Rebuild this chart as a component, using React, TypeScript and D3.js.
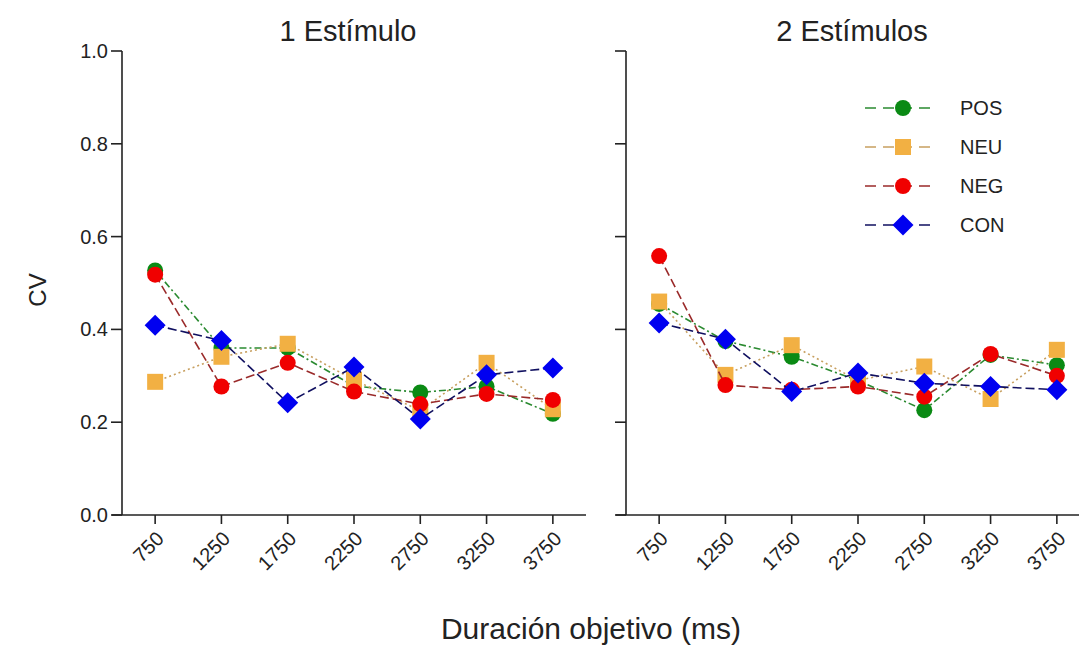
import React, { useEffect, useRef } from 'react';
import * as d3 from 'd3';

// target durations (ms)
const durations = ['750', '1250', '1750', '2250', '2750', '3250', '3750'];
const yTicks = [0, 0.2, 0.4, 0.6, 0.8, 1.0];
const panelTitles = ['1 Estímulo', '2 Estímulos'];
const seriesNames = ['POS', 'NEU', 'NEG', 'CON'];

// CV values, one estimulus
const pos1 = [0.527, 0.36, 0.36, 0.278, 0.264, 0.277, 0.218];
const neu1 = [0.287, 0.341, 0.369, 0.291, 0.225, 0.328, 0.228];
const neg1 = [0.518, 0.277, 0.328, 0.266, 0.239, 0.261, 0.248];
const con1 = [0.409, 0.376, 0.242, 0.319, 0.207, 0.302, 0.317];

// CV values, two estimuli
const pos2 = [0.455, 0.375, 0.341, 0.29, 0.226, 0.345, 0.323];
const neu2 = [0.46, 0.302, 0.366, 0.29, 0.32, 0.25, 0.356];
const neg2 = [0.558, 0.28, 0.27, 0.277, 0.255, 0.347, 0.3];
const con2 = [0.414, 0.379, 0.266, 0.306, 0.284, 0.277, 0.27];

const panelData = [
  [pos1, neu1, neg1, con1],
  [pos2, neu2, neg2, con2],
];

const styles: Record<string, { fill: string; line: string; dash: string; shape: string }> = {
  POS: { fill: '#0a8a14', line: '#2a8a30', dash: '7,3,2,3', shape: 'circle' },
  NEU: { fill: '#f2b043', line: '#c8a060', dash: '2,3', shape: 'square' },
  NEG: { fill: '#f00000', line: '#9a2a2a', dash: '9,4', shape: 'circle' },
  CON: { fill: '#0000f0', line: '#101060', dash: '9,4', shape: 'diamond' },
};

const FONT = '"Liberation Sans", Arial, sans-serif';

function drawMarker(g: any, shape: string, x: number, y: number, fill: string) {
  if (shape === 'circle') {
    g.append('circle').attr('cx', x).attr('cy', y).attr('r', 8).attr('fill', fill);
  } else if (shape === 'square') {
    g.append('rect').attr('x', x - 8).attr('y', y - 8).attr('width', 16).attr('height', 16).attr('fill', fill);
  } else {
    const s = 10.5;
    g.append('path')
      .attr('d', `M${x},${y - s}L${x + s},${y}L${x},${y + s}L${x - s},${y}Z`)
      .attr('fill', fill);
  }
}

export default function App() {
  const ref = useRef<SVGSVGElement>(null);

  useEffect(() => {
    const svg = d3.select(ref.current);
    svg.selectAll('*').remove();

    const y = d3.scaleLinear().domain([0, 1]).range([515, 51]);
    const panelLeft = [122, 626];
    const panelWidth = 464;

    panelLeft.forEach((left, p) => {
      const x = d3.scalePoint().domain(durations).range([left, left + panelWidth]).padding(0.5);
      const g = svg.append('g');

      // y axis
      g.append('line')
        .attr('x1', left).attr('x2', left)
        .attr('y1', y(1)).attr('y2', y(0))
        .attr('stroke', '#222').attr('stroke-width', 1.6);
      // x axis line, extended to the left like a 0 tick
      g.append('line')
        .attr('x1', left - 10).attr('x2', left + panelWidth)
        .attr('y1', y(0)).attr('y2', y(0))
        .attr('stroke', '#222').attr('stroke-width', 1.6);

      yTicks.forEach(t => {
        g.append('line')
          .attr('x1', left - 11).attr('x2', left)
          .attr('y1', y(t)).attr('y2', y(t))
          .attr('stroke', '#222').attr('stroke-width', 1.6);
        if (p === 0) {
          g.append('text')
            .attr('x', left - 14).attr('y', y(t))
            .attr('dy', '0.35em')
            .attr('text-anchor', 'end')
            .attr('font-family', FONT).attr('font-size', 20)
            .attr('fill', '#222')
            .text(t.toFixed(1));
        }
      });

      durations.forEach(d => {
        const px = x(d)!;
        g.append('line')
          .attr('x1', px).attr('x2', px)
          .attr('y1', y(0)).attr('y2', y(0) + 9)
          .attr('stroke', '#222').attr('stroke-width', 1.6);
        g.append('text')
          .attr('transform', `translate(${px + 5},${y(0) + 20}) rotate(-45)`)
          .attr('text-anchor', 'end')
          .attr('dy', '0.35em')
          .attr('font-family', FONT).attr('font-size', 20)
          .attr('fill', '#222')
          .text(d);
      });

      g.append('text')
        .attr('x', left + panelWidth / 2 - 6).attr('y', 41)
        .attr('text-anchor', 'middle')
        .attr('font-family', FONT).attr('font-size', 29)
        .attr('fill', '#222')
        .text(panelTitles[p]);

      // series
      panelData[p].forEach((vals, i) => {
        const st = styles[seriesNames[i]];
        const line = d3.line<number>()
          .x((_, j) => x(durations[j])!)
          .y(v => y(v));
        g.append('path')
          .attr('d', line(vals))
          .attr('fill', 'none')
          .attr('stroke', st.line)
          .attr('stroke-width', 1.6)
          .attr('stroke-dasharray', st.dash);
        vals.forEach((v, j) => drawMarker(g, st.shape, x(durations[j])!, y(v), st.fill));
      });
    });

    // legend
    const lg = svg.append('g');
    seriesNames.forEach((name, i) => {
      const st = styles[name];
      const ly = 108 + i * 39;
      lg.append('line')
        .attr('x1', 865).attr('x2', 933)
        .attr('y1', ly).attr('y2', ly)
        .attr('stroke', st.line).attr('stroke-width', 1.6)
        .attr('stroke-dasharray', '11,7');
      drawMarker(lg, st.shape, 903, ly, st.fill);
      lg.append('text')
        .attr('x', 960).attr('y', ly)
        .attr('dy', '0.35em')
        .attr('font-family', FONT).attr('font-size', 20)
        .attr('fill', '#222')
        .text(name);
    });

    // axis titles
    svg.append('text')
      .attr('transform', 'translate(46,290) rotate(-90)')
      .attr('text-anchor', 'middle')
      .attr('font-family', FONT).attr('font-size', 24)
      .attr('fill', '#222')
      .text('CV');
    svg.append('text')
      .attr('x', 591).attr('y', 639)
      .attr('text-anchor', 'middle')
      .attr('font-family', FONT).attr('font-size', 30)
      .attr('fill', '#222')
      .text('Duración objetivo (ms)');
  }, []);

  return (
    <svg
      ref={ref}
      width={1079}
      height={648}
      style={{ position: 'absolute', left: 0, top: 0, background: '#fff' }}
    />
  );
}
